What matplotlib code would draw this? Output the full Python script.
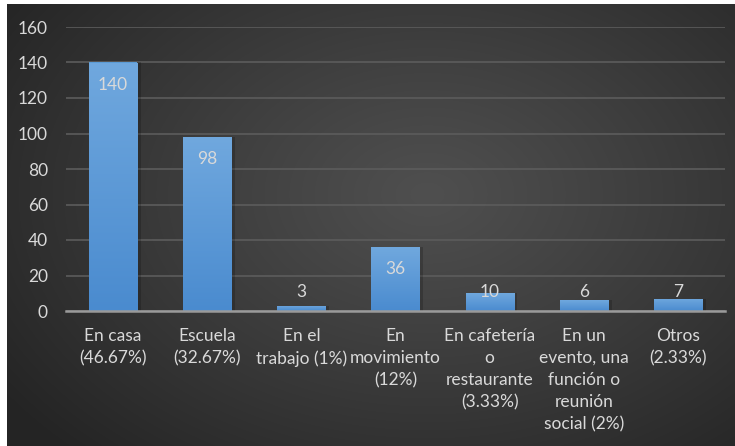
import numpy as np
import matplotlib
matplotlib.use("Agg")
import matplotlib.pyplot as plt
from matplotlib.colors import LinearSegmentedColormap

categories = [
    "En casa\n(46.67%)",
    "Escuela\n(32.67%)",
    "En el\ntrabajo (1%)",
    "En\nmovimiento\n(12%)",
    "En cafetería\no\nrestaurante\n(3.33%)",
    "En un\nevento, una\nfunción o\nreunión\nsocial (2%)",
    "Otros\n(2.33%)",
]
values = [140, 98, 3, 36, 10, 6, 7]
yticks = [0, 20, 40, 60, 80, 100, 120, 140, 160]

plt.rcParams['font.family'] = ['Lato', 'DejaVu Sans']
txt = '#d9d9d9'
fs = 12.5

W, H = 735, 446
fig = plt.figure(figsize=(W / 100, H / 100), dpi=100, facecolor='white')

# radial gradient background
bg = fig.add_axes([7 / W, 0, 1 - 7 / W, 1 - 4 / H], zorder=0)
bg.set_axis_off()
yy, xx = np.mgrid[0:442, 0:728]
cx, cy = 420, 190
r = np.sqrt(((xx - cx) / 520) ** 2 + ((yy - cy) / 360) ** 2)
r = np.clip(r, 0, 1)
c0, c1 = 0x4f / 255, 0x24 / 255
shade = c0 + (c1 - c0) * r ** 1.1
bg.imshow(np.dstack([shade] * 3), aspect='auto', interpolation='bilinear')

ax = fig.add_axes([66 / W, (H - 311) / H, (725 - 66) / W, (311 - 27) / H], zorder=1)
ax.patch.set_alpha(0)
x = np.arange(len(values))
bars = ax.bar(x, values, width=0.51, color='#5b9bd5', zorder=3)

# vertical gradient on bars
cmap = LinearSegmentedColormap.from_list('b', ['#4a8bcf', '#70a8de'])
grad = np.linspace(0, 1, 256).reshape(-1, 1)
for b in bars:
    bx, by = b.get_x(), b.get_y()
    bw, bh = b.get_width(), b.get_height()
    # soft shadow
    ax.add_patch(plt.Rectangle((bx + 0.02, by), bw + 0.02, bh, color='black',
                               alpha=0.18, zorder=2, lw=0))
    im = ax.imshow(grad, extent=[bx, bx + bw, by, by + bh], origin='lower',
                   cmap=cmap, aspect='auto', zorder=3)
    im.set_clip_path(b)

ax.set_xlim(-0.5, len(values) - 0.5)
ax.set_ylim(0, 160)
ax.set_yticks(yticks)
ax.yaxis.grid(True, color='#5c5c5c', linewidth=1.2)
ax.set_axisbelow(True)
for s in ['top', 'right', 'left']:
    ax.spines[s].set_visible(False)
ax.spines['bottom'].set_color('#9a9a9a')
ax.spines['bottom'].set_linewidth(1.8)
ax.spines['bottom'].set_zorder(4)
ax.tick_params(axis='both', length=0, colors=txt, labelsize=fs)
ax.tick_params(axis='y', pad=13)
ax.tick_params(axis='x', pad=12)
ax.set_xticks(x)
ax.set_xticklabels(categories, linespacing=1.48, va='top')

for i, v in enumerate(values):
    ypos = max(v - 12.4, 10.7)
    ax.text(i, ypos, str(v), ha='center', va='center', color=txt,
            fontsize=fs, zorder=5)

fig.savefig('out.png', dpi=100, facecolor='white')
